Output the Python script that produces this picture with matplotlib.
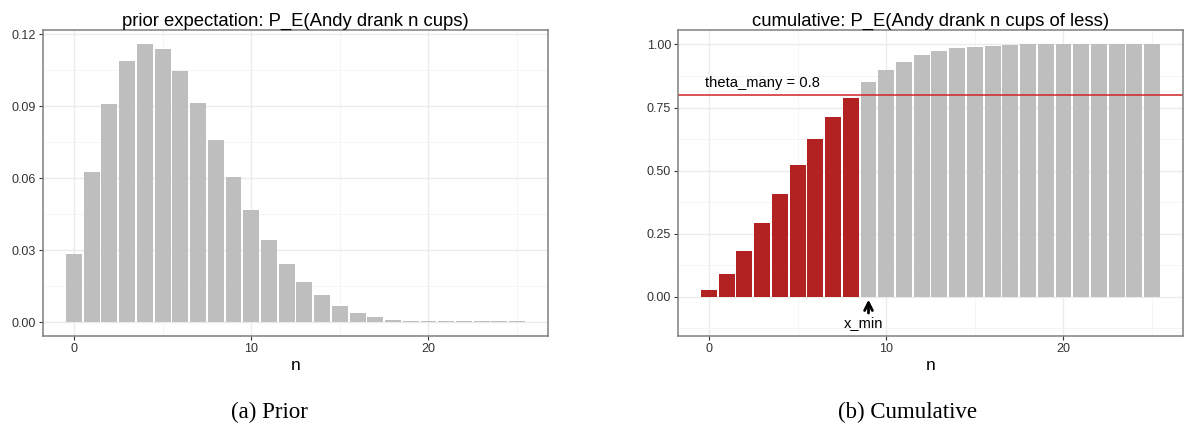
import numpy as np
import matplotlib
matplotlib.use("Agg")
import matplotlib.pyplot as plt
from matplotlib.ticker import MultipleLocator

plt.rcParams['font.family'] = ['Liberation Sans', 'DejaVu Sans']

# prior P_E(n)
n = np.arange(0, 26)
prior = [0.0285, 0.0626, 0.0910, 0.1089, 0.1160, 0.1139, 0.1049, 0.0914,
         0.0760, 0.0606, 0.0468, 0.0344, 0.0243, 0.0168, 0.0111, 0.0069,
         0.0039, 0.0022, 0.0010, 0.0006, 0.0004, 0.0003, 0.0003, 0.0003,
         0.0003, 0.0003]
# cumulative P_E(<= n)
cumulative = [0.028, 0.091, 0.182, 0.292, 0.407, 0.521, 0.624, 0.714,
              0.789, 0.853, 0.900, 0.932, 0.959, 0.975, 0.987, 0.991,
              0.995, 0.999, 1.0, 1.0, 1.0, 1.0, 1.0, 1.0, 1.0, 1.0]
theta_many = 0.8
x_min = 9

GREY = "#BEBEBE"
RED = "#B22222"
TXT = "#333333"


def bw_theme(ax):
    ax.set_facecolor("white")
    for s in ax.spines.values():
        s.set_color("#7F7F7F")
        s.set_linewidth(1.1)
    ax.grid(True, which="major", color="#EBEBEB", linewidth=1.0)
    ax.grid(True, which="minor", color="#F4F4F4", linewidth=0.6)
    ax.set_axisbelow(True)
    ax.tick_params(which="major", length=3, color="#333333", labelsize=9,
                   labelcolor=TXT, pad=2)
    ax.tick_params(which="minor", length=0)
    ax.xaxis.set_major_locator(MultipleLocator(10))
    ax.xaxis.set_minor_locator(MultipleLocator(5))
    ax.set_xlim(-1.745, 26.745)
    ax.set_xlabel("n", fontsize=12.5, color="black", labelpad=2)


fig = plt.figure(figsize=(11.86, 4.25), dpi=100)

ax1 = fig.add_axes([0.0363, 0.2094, 0.4258, 0.72])
ax1.bar(n, prior, width=0.9, color=GREY)
bw_theme(ax1)
ax1.set_ylim(-0.0058, 0.1218)
ax1.yaxis.set_major_locator(MultipleLocator(0.03))
ax1.yaxis.set_minor_locator(MultipleLocator(0.015))
ax1.yaxis.set_major_formatter(lambda v, p: f"{v:.2f}")
ax1.set_title("prior expectation: P_E(Andy drank n cups)", fontsize=13.3, pad=2)

ax2 = fig.add_axes([0.5717, 0.2094, 0.4258, 0.72])
cols = [RED if c < theta_many else GREY for c in cumulative]
ax2.bar(n, cumulative, width=0.9, color=cols)
bw_theme(ax2)
ax2.set_ylim(-0.155, 1.057)
ax2.yaxis.set_major_locator(MultipleLocator(0.25))
ax2.yaxis.set_minor_locator(MultipleLocator(0.125))
ax2.yaxis.set_major_formatter(lambda v, p: f"{v:.2f}")
ax2.axhline(theta_many, color="#CD2626", linewidth=1.1)
ax2.text(3, theta_many + 0.047, "theta_many = 0.8", fontsize=10.6,
         ha="center", va="center")
ax2.annotate("", xy=(x_min, 0.0), xytext=(x_min, -0.075),
             arrowprops=dict(arrowstyle="->", color="black", lw=2,
                             mutation_scale=14))
ax2.text(x_min - 0.25, -0.105, "x_min", fontsize=10.6, ha="center", va="center")
ax2.set_title("cumulative: P_E(Andy drank n cups of less)", fontsize=13.3, pad=2)

fig.text(269 / 1186, 1 - 412 / 425, "(a) Prior", family="Liberation Serif",
         fontsize=16.5, ha="center", va="center")
fig.text(908 / 1186, 1 - 412 / 425, "(b) Cumulative", family="Liberation Serif",
         fontsize=16.5, ha="center", va="center")

fig.savefig("out.png", dpi=100)
